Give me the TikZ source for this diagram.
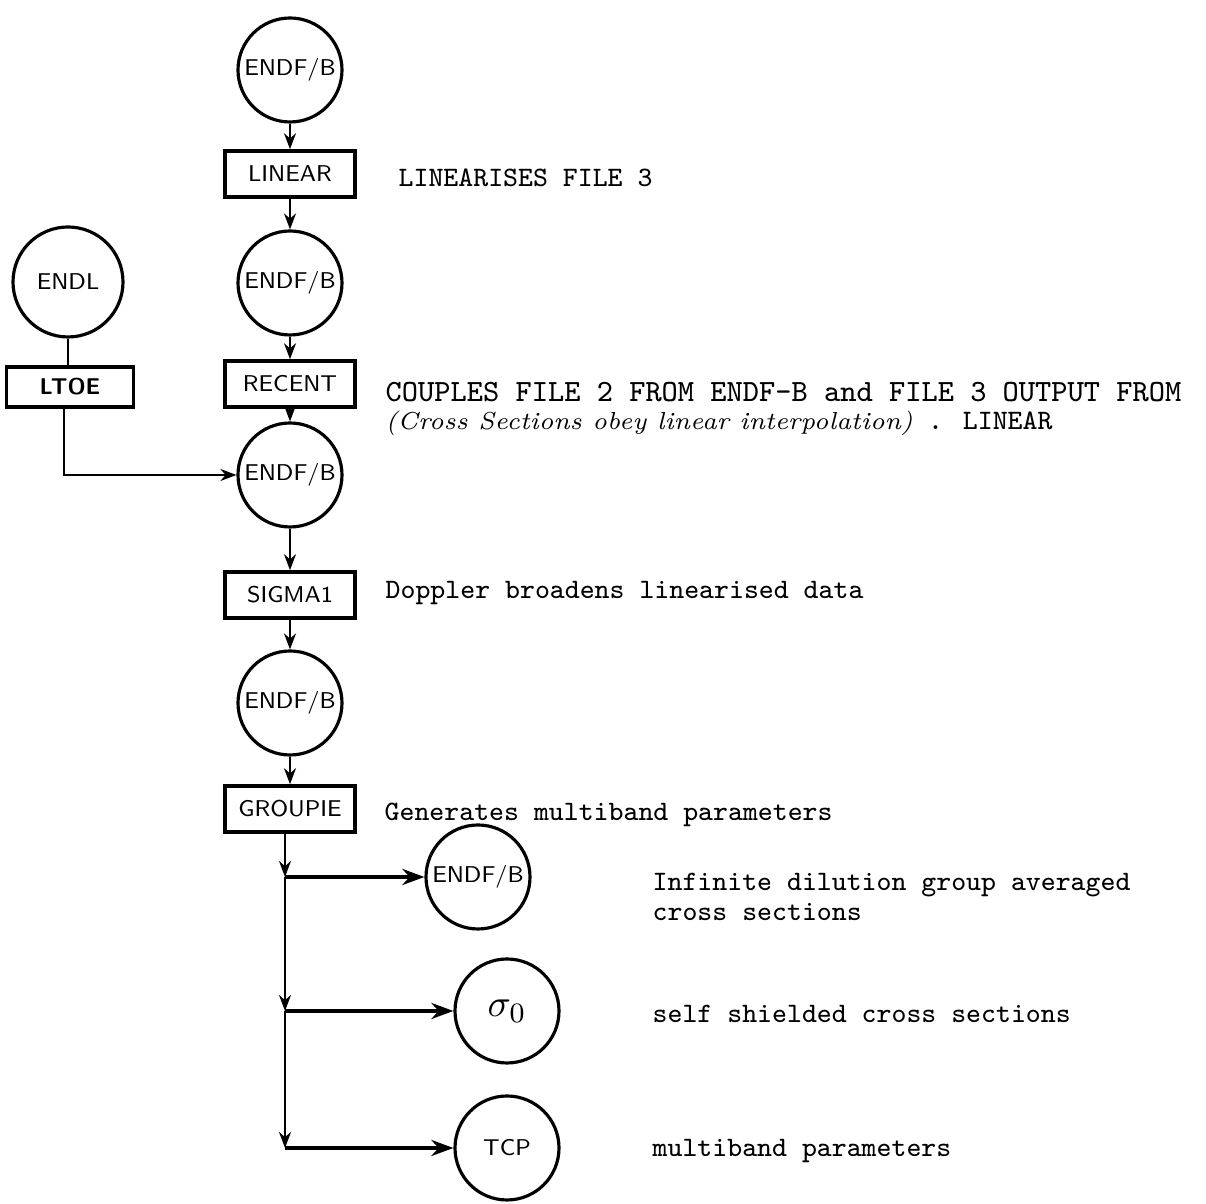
\documentclass[tikz,border=0pt]{standalone}
\usepackage{tikz}
\usetikzlibrary{arrows.meta,calc}

\tikzset{
  file/.style={draw,circle,line width=0.9pt,minimum size=1.04cm,inner sep=0pt,font=\sffamily\fontsize{6.5}{7}\selectfont},
  prog/.style={draw,rectangle,line width=1pt,minimum width=1.3cm,minimum height=0.46cm,inner sep=1pt,font=\sffamily\fontsize{6.5}{7}\selectfont},
  flow/.style={line width=0.6pt,-{Stealth[length=1.6mm,width=1.2mm]}},
  branch/.style={line width=1.3pt,-{Stealth[length=2.2mm,width=1.6mm]}},
  note/.style={anchor=west,inner sep=0pt,font=\ttfamily\fontsize{8}{8.5}\selectfont}
}

\begin{document}
\begin{tikzpicture}
  \useasboundingbox (0,0) rectangle (12.06,12.04);
  % main chain
  \node[file] (f1) at (2.90,11.34) {ENDF/B};
  \node[prog] (linear) at (2.90,10.30) {LINEAR};
  \node[file] (f2) at (2.90,9.21) {ENDF/B};
  \node[prog] (recent) at (2.90,8.20) {RECENT};
  \node[file] (f3) at (2.90,7.29) {ENDF/B};
  \node[prog] (sigma) at (2.90,6.09) {SIGMA1};
  \node[file] (f4) at (2.90,5.01) {ENDF/B};
  \node[prog] (groupie) at (2.90,3.95) {GROUPIE};
  % side input
  \node[file,minimum size=1.1cm] (endl) at (0.68,9.22) {ENDL};
  \node[prog,minimum width=1.27cm,minimum height=0.4cm] (ltoe) at (0.70,8.17) {\bfseries LTOE};
  % outputs
  \node[file] (inf) at (4.78,3.27) {ENDF/B};
  \node[file] (sig0) at (5.07,1.93) {\fontsize{11}{12}\selectfont$\sigma_0$};
  \node[file] (tcp) at (5.07,0.56) {TCP};
  \coordinate (j1) at (2.85,3.27);
  \coordinate (j2) at (2.85,1.93);
  \coordinate (j3) at (2.85,0.56);

  \foreach \a/\b in {f1/linear, linear/f2, f2/recent, recent/f3, f3/sigma, sigma/f4, f4/groupie}
    \draw[flow] (\a) -- (\b);
  \draw[line width=0.6pt] (endl) -- (endl |- ltoe.north);
  \draw[flow] (ltoe.south -| 0.64,0) |- (f3.west);
  % GROUPIE fans out
  \draw[flow] (groupie.south -| j1) -- (j1);
  \draw[flow] (j1) -- (j2);
  \draw[flow] (j2) -- (j3);
  \foreach \j/\o in {j1/inf, j2/sig0, j3/tcp}
    \draw[branch] (\j) -- (\o);

  % notes
  \node[note] (t1) at (3.98,10.26) {LINEARISES FILE 3};
  \node[note,font=\ttfamily\fontsize{8.8}{10}\selectfont] (t2) at (3.85,8.12) {COUPLES FILE 2 FROM ENDF-B and FILE 3 OUTPUT FROM};
  \node[note] (t3) at (3.85,7.81) {{\rmfamily\itshape\fontsize{7}{8}\selectfont (Cross Sections obey linear interpolation)} . LINEAR};
  \node[note] (t4) at (3.85,6.11) {Doppler broadens linearised data};
  \node[note] (t5) at (3.84,3.89) {Generates multiband parameters};
  \node[note,align=left] (t6) at (6.52,3.07) {Infinite dilution group averaged\\cross sections};
  \node[note] (t7) at (6.52,1.90) {self shielded cross sections};
  \node[note] (t8) at (6.52,0.53) {multiband parameters};
\end{tikzpicture}
\end{document}
